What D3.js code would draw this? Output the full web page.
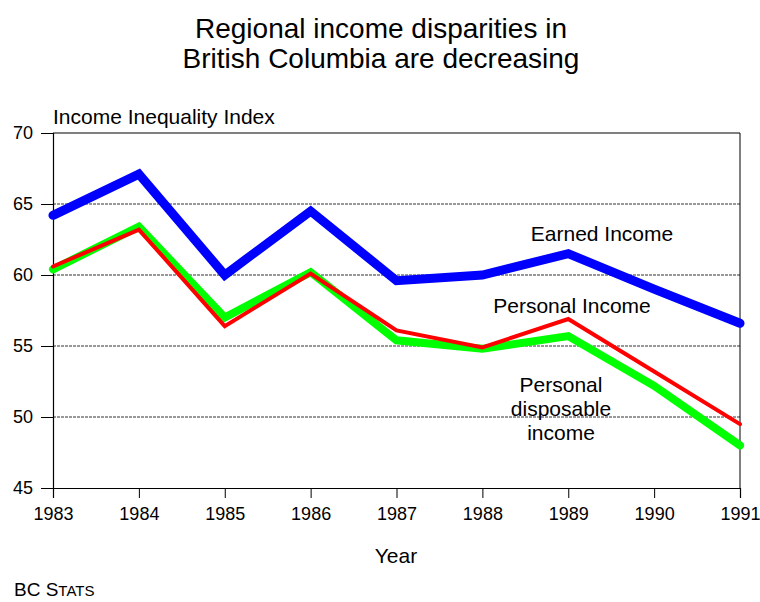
<!DOCTYPE html>
<html>
<head>
<meta charset="utf-8">
<script src="https://cdn.jsdelivr.net/npm/d3@7"></script>
<style>
  body { margin: 0; background: #fff; }
  text { font-family: "Liberation Sans", Arial, sans-serif; fill: #000; }
</style>
</head>
<body>
<svg id="chart" width="760" height="602"></svg>
<script>
const years = [1983, 1984, 1985, 1986, 1987, 1988, 1989, 1990, 1991];
const earnedIncome = [64.2, 67.1, 60.0, 64.5, 59.6, 60.0, 61.5, 59.0, 56.6];
const personalIncome = [60.6, 63.2, 56.4, 60.1, 56.1, 54.9, 56.9, 53.2, 49.5];
const disposableIncome = [60.4, 63.4, 57.0, 60.2, 55.4, 54.8, 55.7, 52.2, 48.0];
const yTicks = [45, 50, 55, 60, 65, 70];

const svg = d3.select("#chart");
const plotLeft = 53, plotRight = 740, plotTop = 133, plotBottom = 488;

const x = d3.scaleLinear().domain([1983, 1991]).range([plotLeft, plotRight]);
const y = d3.scaleLinear().domain([45, 70]).range([plotBottom, plotTop]);

// title
svg.append("text").attr("x", 381).attr("y", 38).attr("text-anchor", "middle")
    .style("font-size", "28px").text("Regional income disparities in");
svg.append("text").attr("x", 381).attr("y", 68).attr("text-anchor", "middle")
    .style("font-size", "28px").text("British Columbia are decreasing");

// gridlines
svg.append("g").selectAll("line").data([50, 55, 60, 65]).join("line")
    .attr("x1", plotLeft).attr("x2", plotRight)
    .attr("y1", d => y(d)).attr("y2", d => y(d))
    .attr("stroke", "#333").attr("stroke-width", 1)
    .attr("stroke-dasharray", "3,1");

// frame top and right
svg.append("line").attr("x1", plotLeft).attr("x2", plotRight).attr("y1", plotTop).attr("y2", plotTop)
    .attr("stroke", "#000");
svg.append("line").attr("x1", plotRight).attr("x2", plotRight).attr("y1", plotTop).attr("y2", plotBottom)
    .attr("stroke", "#000");

// axes
const yAxis = svg.append("g").attr("transform", `translate(${plotLeft},0)`)
    .call(d3.axisLeft(y).tickValues(yTicks).tickSize(12).tickPadding(8));
const xAxis = svg.append("g").attr("transform", `translate(0,${plotBottom})`)
    .call(d3.axisBottom(x).tickValues(years).tickFormat(d3.format("d")).tickSize(10).tickPadding(6));

[yAxis, xAxis].forEach(g => {
    g.select(".domain").attr("stroke", "#000").attr("stroke-width", 1.2);
    g.selectAll(".tick line").attr("stroke", "#000");
    g.selectAll(".tick text").style("font-size", "18px").style("font-family", "'Liberation Sans', Arial, sans-serif");
});
xAxis.selectAll(".tick text").attr("dy", "0.9em");
yAxis.selectAll(".tick text").attr("x", -20);

// lines
const line = d3.line().x((d, i) => x(years[i])).y(d => y(d));
const series = [
    { values: disposableIncome, color: "#00ff00", width: 8 },
    { values: personalIncome, color: "#ff0000", width: 4 },
    { values: earnedIncome, color: "#0000ff", width: 9 }
];
series.forEach(s => {
    svg.append("path").datum(s.values).attr("d", line)
        .attr("fill", "none").attr("stroke", s.color)
        .attr("stroke-width", s.width).attr("stroke-linejoin", "miter")
        .attr("stroke-linecap", "round");
});

// labels
svg.append("text").attr("x", 53).attr("y", 124).style("font-size", "21px").text("Income Inequality Index");
svg.append("text").attr("x", 602).attr("y", 241).attr("text-anchor", "middle")
    .style("font-size", "21px").text("Earned Income");
svg.append("text").attr("x", 572).attr("y", 313).attr("text-anchor", "middle")
    .style("font-size", "21px").text("Personal Income");
["Personal", "disposable", "income"].forEach((t, i) => {
    svg.append("text").attr("x", 561).attr("y", 392 + i * 24).attr("text-anchor", "middle")
        .style("font-size", "21px").text(t);
});
svg.append("text").attr("x", 396).attr("y", 563).attr("text-anchor", "middle")
    .style("font-size", "21px").text("Year");
const bc = svg.append("text").attr("x", 14).attr("y", 596).style("font-size", "19px");
bc.append("tspan").text("BC S");
bc.append("tspan").style("font-size", "15px").text("TATS");
</script>
</body>
</html>
